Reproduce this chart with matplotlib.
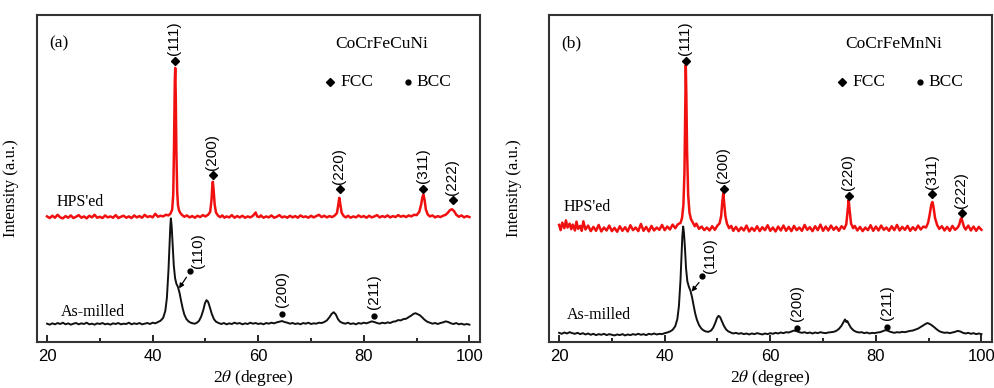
import matplotlib
matplotlib.use("Agg")
import matplotlib.pyplot as plt
from matplotlib.ticker import MultipleLocator

plt.rcParams["mathtext.fontset"] = "stix"

# ---- data (2theta in degree, intensity in a.u.) ----
a_hps = [
    (20.0, 38.4), (20.5, 37.9), (21.0, 38.6), (21.5, 38.0), (22.0, 38.9), (22.5, 38.1),
    (23.0, 37.8), (23.5, 38.5), (24.0, 38.0), (24.5, 38.7), (25.0, 37.9), (25.5, 38.3),
    (26.0, 38.8), (26.5, 38.0), (27.0, 38.4), (27.5, 37.8), (28.0, 38.6), (28.5, 38.1),
    (29.0, 38.9), (29.5, 38.0), (30.0, 38.3), (30.5, 37.9), (31.0, 38.7), (31.5, 38.1),
    (32.0, 38.4), (32.5, 38.0), (33.0, 38.8), (33.5, 37.9), (34.0, 38.3), (34.5, 38.6),
    (35.0, 38.0), (35.5, 38.4), (36.0, 37.9), (36.5, 38.7), (37.0, 38.1), (37.5, 38.5),
    (38.0, 38.0), (38.5, 38.9), (39.0, 38.2), (39.5, 38.5), (40.0, 38.1), (40.5, 39.2),
    (41.0, 38.3), (41.5, 38.6), (42.0, 38.4), (42.5, 38.9), (43.0, 38.7), (43.4, 39.3),
    (43.7, 40.5), (43.9, 45.0), (44.05, 60.0), (44.2, 80.0), (44.28, 83.8), (44.38, 75.0),
    (44.5, 58.0), (44.65, 46.0), (44.8, 41.8), (45.0, 40.2), (45.3, 39.3), (45.6, 38.8),
    (46.0, 38.3), (46.5, 38.7), (47.0, 38.1), (47.5, 38.5), (48.0, 38.0), (48.5, 38.6),
    (49.0, 38.2), (49.5, 38.8), (50.0, 38.4), (50.5, 38.9), (50.9, 39.8), (51.15, 43.5),
    (51.3, 47.5), (51.4, 49.0), (51.55, 46.5), (51.75, 42.0), (52.0, 39.6), (52.4, 38.6),
    (52.8, 38.2), (53.2, 38.7), (53.6, 38.0), (54.0, 38.4), (54.5, 38.1), (55.0, 38.8),
    (55.5, 38.0), (56.0, 38.5), (56.5, 38.1), (57.0, 38.6), (57.5, 38.0), (58.0, 38.4),
    (58.5, 38.1), (59.0, 38.6), (59.5, 39.6), (59.8, 38.4), (60.2, 38.2), (60.5, 38.7),
    (61.0, 38.0), (61.5, 38.4), (62.0, 38.1), (62.5, 38.7), (63.0, 38.0), (63.5, 38.3),
    (64.0, 38.8), (64.5, 38.1), (65.0, 38.4), (65.5, 38.0), (66.0, 38.6), (66.5, 38.1),
    (67.0, 38.5), (67.5, 38.0), (68.0, 38.7), (68.5, 38.2), (69.0, 38.4), (69.5, 38.0),
    (70.0, 38.6), (70.5, 38.1), (71.0, 38.5), (71.5, 38.9), (72.0, 38.2), (72.5, 38.6),
    (73.0, 38.1), (73.5, 38.5), (74.0, 38.2), (74.5, 38.7), (74.9, 39.4), (75.15, 41.8),
    (75.35, 44.1), (75.55, 42.0), (75.8, 39.5), (76.2, 38.5), (76.6, 38.1), (77.0, 38.6),
    (77.5, 38.0), (78.0, 38.4), (78.5, 38.1), (79.0, 38.7), (79.5, 38.2), (80.0, 38.5),
    (80.5, 38.0), (81.0, 38.6), (81.5, 38.1), (82.0, 38.4), (82.5, 38.8), (83.0, 38.1),
    (83.5, 38.5), (84.0, 38.2), (84.5, 38.7), (85.0, 38.1), (85.5, 38.5), (86.0, 38.2),
    (86.5, 38.8), (87.0, 38.3), (87.5, 38.6), (88.0, 38.2), (88.5, 38.7), (89.0, 38.4),
    (89.5, 38.9), (90.0, 38.8), (90.5, 39.8), (90.85, 42.0), (91.1, 44.3), (91.3, 45.1),
    (91.5, 43.5), (91.75, 40.5), (92.1, 39.0), (92.5, 38.4), (93.0, 38.7), (93.5, 38.1),
    (94.0, 38.5), (94.5, 38.2), (95.0, 38.6), (95.5, 38.9), (95.9, 39.5), (96.3, 40.3),
    (96.7, 40.6), (97.1, 40.0), (97.5, 38.9), (98.0, 38.3), (98.5, 38.7), (99.0, 38.1),
    (99.5, 38.5), (100.0, 38.2),
]

a_milled = [
    (20.0, 5.6), (20.5, 5.3), (21.0, 5.7), (21.5, 5.4), (22.0, 5.8), (22.5, 5.5),
    (23.0, 5.9), (23.5, 5.4), (24.0, 5.7), (24.5, 5.3), (25.0, 5.6), (25.5, 5.8),
    (26.0, 5.4), (26.5, 5.7), (27.0, 5.5), (27.5, 5.9), (28.0, 5.4), (28.5, 5.6),
    (29.0, 5.3), (29.5, 5.7), (30.0, 5.5), (30.5, 5.8), (31.0, 5.4), (31.5, 5.6),
    (32.0, 5.3), (32.5, 5.7), (33.0, 5.5), (33.5, 5.8), (34.0, 5.4), (34.5, 5.6),
    (35.0, 5.5), (35.5, 5.9), (36.0, 5.4), (36.5, 5.7), (37.0, 5.5), (37.5, 5.8),
    (38.0, 5.4), (38.5, 5.6), (39.0, 5.8), (39.5, 5.5), (40.0, 5.9), (40.5, 5.7),
    (41.0, 6.1), (41.5, 6.5), (42.0, 7.4), (42.4, 9.5), (42.7, 13.5), (43.0, 22.0),
    (43.2, 30.0), (43.35, 35.5), (43.45, 37.8), (43.6, 35.5), (43.8, 29.5), (44.0, 23.5),
    (44.25, 19.5), (44.5, 17.8), (44.8, 16.8), (45.1, 15.0), (45.4, 12.5), (45.7, 10.2),
    (46.0, 8.4), (46.4, 7.0), (46.8, 6.3), (47.2, 5.9), (47.6, 5.7), (48.0, 5.6),
    (48.4, 5.9), (48.8, 6.5), (49.2, 7.8), (49.6, 9.8), (49.9, 11.8), (50.2, 12.8),
    (50.5, 12.3), (50.8, 10.8), (51.2, 8.6), (51.6, 7.0), (52.0, 6.2), (52.5, 5.8),
    (53.0, 5.5), (53.5, 5.8), (54.0, 5.4), (54.5, 5.7), (55.0, 5.5), (55.5, 5.9),
    (56.0, 5.6), (56.5, 5.8), (57.0, 5.4), (57.5, 5.7), (58.0, 5.5), (58.5, 5.9),
    (59.0, 5.6), (59.5, 5.8), (60.0, 5.5), (60.5, 5.7), (61.0, 5.4), (61.5, 5.8),
    (62.0, 5.6), (62.5, 5.9), (63.0, 5.7), (63.5, 6.0), (64.0, 6.2), (64.5, 6.4),
    (65.0, 6.1), (65.5, 5.9), (66.0, 5.6), (66.5, 5.8), (67.0, 5.5), (67.5, 5.7),
    (68.0, 5.4), (68.5, 5.8), (69.0, 5.6), (69.5, 5.9), (70.0, 5.5), (70.5, 5.7),
    (71.0, 5.6), (71.5, 5.9), (72.0, 5.8), (72.5, 6.1), (73.0, 6.6), (73.5, 7.6),
    (73.9, 8.6), (74.3, 9.1), (74.7, 8.4), (75.1, 7.0), (75.5, 6.2), (76.0, 5.8),
    (76.5, 5.6), (77.0, 5.9), (77.5, 5.5), (78.0, 5.7), (78.5, 5.4), (79.0, 5.8),
    (79.5, 5.6), (80.0, 5.9), (80.5, 5.7), (81.0, 6.0), (81.5, 6.3), (82.0, 6.1),
    (82.5, 5.8), (83.0, 5.6), (83.5, 5.9), (84.0, 5.7), (84.5, 6.0), (85.0, 5.8),
    (85.5, 6.2), (86.0, 6.3), (86.5, 6.7), (87.0, 6.6), (87.5, 7.0), (88.0, 7.1),
    (88.5, 7.6), (89.0, 8.1), (89.4, 8.6), (89.8, 8.8), (90.2, 8.5), (90.6, 8.2),
    (91.0, 7.6), (91.5, 6.8), (92.0, 6.2), (92.5, 5.9), (93.0, 5.6), (93.5, 5.8),
    (94.0, 5.5), (94.5, 5.8), (95.0, 6.0), (95.5, 6.3), (96.0, 6.1), (96.5, 5.7),
    (97.0, 5.5), (97.5, 5.8), (98.0, 5.4), (98.5, 5.6), (99.0, 5.3), (99.5, 5.5),
    (100.0, 5.3),
]

b_hps = [
    (20.0, 35.8), (20.3, 34.2), (20.6, 36.5), (21.0, 34.8), (21.3, 37.2), (21.6, 35.0),
    (22.0, 36.2), (22.3, 34.5), (22.6, 35.9), (23.0, 34.1), (23.3, 36.8), (23.6, 34.6),
    (24.0, 35.5), (24.3, 34.0), (24.6, 36.9), (25.0, 34.4), (25.5, 35.6), (26.0, 33.9),
    (26.5, 35.2), (27.0, 34.0), (27.5, 35.8), (28.0, 33.8), (28.5, 35.0), (29.0, 34.1),
    (29.5, 35.6), (30.0, 33.9), (30.5, 34.9), (31.0, 33.7), (31.5, 35.4), (32.0, 34.0),
    (32.5, 35.1), (33.0, 33.8), (33.5, 35.7), (34.0, 34.2), (34.5, 35.0), (35.0, 33.9),
    (35.5, 36.1), (36.0, 34.0), (36.5, 35.2), (37.0, 33.8), (37.5, 35.5), (38.0, 34.1),
    (38.5, 35.0), (39.0, 34.3), (39.5, 35.8), (40.0, 34.2), (40.5, 35.3), (41.0, 34.4),
    (41.5, 35.9), (42.0, 34.8), (42.5, 36.0), (43.0, 36.4), (43.3, 38.0), (43.55, 42.0),
    (43.75, 52.0), (43.9, 72.0), (44.0, 84.7), (44.1, 76.0), (44.25, 58.0), (44.45, 45.0),
    (44.7, 39.5), (45.0, 37.5), (45.3, 36.6), (45.7, 35.4), (46.0, 36.2), (46.5, 34.6),
    (47.0, 35.3), (47.5, 34.2), (48.0, 35.0), (48.5, 34.1), (49.0, 35.4), (49.5, 34.3),
    (50.0, 35.6), (50.4, 36.3), (50.7, 38.5), (50.9, 42.5), (51.1, 45.5), (51.3, 42.0),
    (51.5, 38.5), (51.8, 36.2), (52.2, 34.8), (52.6, 35.5), (53.0, 34.0), (53.5, 35.2),
    (54.0, 33.9), (54.5, 35.0), (55.0, 34.1), (55.5, 35.6), (56.0, 33.8), (56.5, 34.9),
    (57.0, 34.0), (57.5, 35.4), (58.0, 33.9), (58.5, 35.1), (59.0, 34.2), (59.5, 35.7),
    (60.0, 34.0), (60.5, 35.0), (61.0, 33.8), (61.5, 35.3), (62.0, 34.1), (62.5, 35.6),
    (63.0, 34.0), (63.5, 35.2), (64.0, 33.9), (64.5, 35.5), (65.0, 34.2), (65.5, 35.0),
    (66.0, 34.0), (66.5, 35.8), (67.0, 34.3), (67.5, 35.1), (68.0, 33.9), (68.5, 35.4),
    (69.0, 34.2), (69.5, 35.9), (70.0, 34.0), (70.5, 35.3), (71.0, 34.1), (71.5, 35.6),
    (72.0, 34.3), (72.5, 35.2), (73.0, 34.0), (73.5, 35.4), (74.0, 34.6), (74.4, 36.0),
    (74.65, 40.0), (74.85, 43.4), (75.05, 40.0), (75.3, 36.2), (75.7, 34.8), (76.0, 35.5),
    (76.5, 34.1), (77.0, 35.2), (77.5, 33.9), (78.0, 35.0), (78.5, 34.2), (79.0, 35.7),
    (79.5, 34.0), (80.0, 35.3), (80.5, 34.1), (81.0, 35.6), (81.5, 34.3), (82.0, 35.0),
    (82.5, 34.0), (83.0, 35.4), (83.5, 34.2), (84.0, 35.8), (84.5, 34.1), (85.0, 35.2),
    (85.5, 34.3), (86.0, 35.5), (86.5, 34.0), (87.0, 35.1), (87.5, 34.2), (88.0, 35.6),
    (88.5, 34.4), (89.0, 35.3), (89.5, 35.0), (89.9, 36.5), (90.2, 39.0), (90.5, 42.0),
    (90.7, 42.8), (90.9, 41.5), (91.2, 38.0), (91.6, 35.8), (92.0, 34.6), (92.5, 35.4),
    (93.0, 34.1), (93.5, 35.2), (94.0, 34.0), (94.5, 35.5), (95.0, 34.3), (95.5, 35.0),
    (95.8, 35.9), (96.05, 37.5), (96.2, 37.9), (96.4, 36.8), (96.7, 35.2), (97.0, 34.4),
    (97.5, 35.6), (98.0, 34.1), (98.5, 35.3), (99.0, 34.0), (99.5, 35.2), (100.0, 34.3),
]

b_milled = [
    (20.0, 2.8), (20.5, 2.5), (21.0, 2.9), (21.5, 2.6), (22.0, 3.0), (22.5, 2.7),
    (23.0, 2.5), (23.5, 2.8), (24.0, 2.4), (24.5, 2.7), (25.0, 2.3), (25.5, 2.6),
    (26.0, 2.2), (26.5, 2.5), (27.0, 2.1), (27.5, 2.4), (28.0, 2.2), (28.5, 2.5),
    (29.0, 2.1), (29.5, 2.4), (30.0, 2.2), (30.5, 2.0), (31.0, 2.3), (31.5, 2.1),
    (32.0, 2.4), (32.5, 2.0), (33.0, 2.3), (33.5, 2.1), (34.0, 2.4), (34.5, 2.2),
    (35.0, 2.5), (35.5, 2.2), (36.0, 2.4), (36.5, 2.1), (37.0, 2.5), (37.5, 2.3),
    (38.0, 2.6), (38.5, 2.3), (39.0, 2.5), (39.5, 2.4), (40.0, 2.7), (40.5, 2.9),
    (41.0, 3.2), (41.5, 3.7), (42.0, 4.8), (42.4, 7.0), (42.7, 11.0), (43.0, 19.0),
    (43.2, 27.0), (43.35, 32.5), (43.5, 35.3), (43.65, 33.5), (43.85, 28.5), (44.05, 22.5),
    (44.3, 18.5), (44.6, 16.8), (44.9, 15.6), (45.2, 13.6), (45.5, 11.0), (45.8, 8.6),
    (46.1, 6.8), (46.5, 5.2), (46.9, 4.2), (47.3, 3.6), (47.8, 3.2), (48.3, 3.1),
    (48.8, 3.5), (49.2, 4.4), (49.6, 5.9), (49.9, 7.3), (50.2, 8.0), (50.5, 7.6),
    (50.8, 6.5), (51.2, 5.0), (51.6, 3.9), (52.0, 3.3), (52.5, 2.9), (53.0, 2.6),
    (53.5, 2.8), (54.0, 2.5), (54.5, 2.7), (55.0, 2.4), (55.5, 2.6), (56.0, 2.3),
    (56.5, 2.6), (57.0, 2.4), (57.5, 2.7), (58.0, 2.5), (58.5, 2.3), (59.0, 2.6),
    (59.5, 2.4), (60.0, 2.7), (60.5, 2.5), (61.0, 2.8), (61.5, 2.6), (62.0, 2.9),
    (62.5, 2.7), (63.0, 3.0), (63.5, 2.9), (64.0, 3.2), (64.5, 3.5), (65.0, 3.3),
    (65.5, 3.0), (66.0, 2.8), (66.5, 3.0), (67.0, 2.7), (67.5, 2.9), (68.0, 2.6),
    (68.5, 2.9), (69.0, 2.7), (69.5, 3.0), (70.0, 2.8), (70.5, 2.7), (71.0, 2.9),
    (71.5, 3.0), (72.0, 3.1), (72.5, 3.4), (73.0, 4.0), (73.5, 5.0), (73.9, 6.2),
    (74.15, 6.9), (74.4, 6.1), (74.6, 6.4), (74.9, 5.4), (75.3, 4.3), (75.8, 3.5),
    (76.3, 3.1), (76.8, 2.9), (77.3, 3.0), (77.8, 2.7), (78.3, 2.9), (78.8, 2.6),
    (79.3, 2.8), (79.8, 2.7), (80.3, 2.9), (80.8, 3.0), (81.3, 3.3), (81.8, 3.6),
    (82.2, 3.5), (82.6, 3.2), (83.0, 3.0), (83.5, 2.8), (84.0, 3.0), (84.5, 2.9),
    (85.0, 3.1), (85.5, 3.0), (86.0, 3.2), (86.5, 3.4), (87.0, 3.5), (87.5, 3.8),
    (88.0, 4.1), (88.5, 4.6), (89.0, 5.1), (89.5, 5.6), (89.8, 5.8), (90.2, 5.5),
    (90.6, 5.1), (91.0, 4.6), (91.5, 3.9), (92.0, 3.3), (92.5, 3.0), (93.0, 2.8),
    (93.5, 2.9), (94.0, 2.7), (94.5, 2.9), (95.0, 3.1), (95.5, 3.4), (96.0, 3.2),
    (96.5, 2.8), (97.0, 2.6), (97.5, 2.8), (98.0, 2.5), (98.5, 2.7), (99.0, 2.4),
    (99.5, 2.6), (100.0, 2.4),
]

# FCC reflections (diamonds) on the HPS'ed pattern
fcc_labels = ["(111)", "(200)", "(220)", "(311)", "(222)"]
a_fcc_x = [44.2, 51.4, 75.4, 91.3, 96.8]
a_fcc_y = [86.0, 51.0, 46.7, 46.8, 43.4]
b_fcc_x = [44.0, 51.2, 74.9, 90.7, 96.3]
b_fcc_y = [86.0, 46.8, 44.7, 45.2, 39.4]

# BCC reflections (dots) on the as-milled pattern
bcc_labels = ["(110)", "(200)", "(211)"]
a_bcc_x = [47.0, 64.5, 81.9]
a_bcc_y = [21.8, 8.6, 8.0]
b_bcc_x = [47.1, 65.0, 82.2]
b_bcc_y = [20.2, 4.3, 4.7]

# (110) shoulder the arrow points at
a_shoulder = (45.0, 16.4)
b_shoulder = (45.1, 15.4)

panels = [
    dict(ax_left=0.0372, tag="(a)", alloy="CoCrFeCuNi", hps=a_hps, milled=a_milled,
         fcc_x=a_fcc_x, fcc_y=a_fcc_y, bcc_x=a_bcc_x, bcc_y=a_bcc_y, shoulder=a_shoulder,
         hps_pos=(21.9, 42.8), milled_pos=(22.7, 9.2), ylab_x=-0.041, xlab=(0.488, -0.080)),
    dict(ax_left=0.5518, tag="(b)", alloy="CoCrFeMnNi", hps=b_hps, milled=b_milled,
         fcc_x=b_fcc_x, fcc_y=b_fcc_y, bcc_x=b_bcc_x, bcc_y=b_bcc_y, shoulder=b_shoulder,
         hps_pos=(20.8, 41.3), milled_pos=(21.5, 8.3), ylab_x=-0.061, xlab=(0.5, -0.080)),
]

serif = "Liberation Serif"
sans = "Liberation Sans"

fig = plt.figure(figsize=(9.95, 3.88), dpi=100)

for p in panels:
    ax = fig.add_axes([p["ax_left"], 0.1186, 0.4452, 0.8428])

    hx, hy = zip(*p["hps"])
    mx, my = zip(*p["milled"])
    ax.plot(hx, hy, color="#f01010", lw=1.8)
    ax.plot(mx, my, color="#111111", lw=1.4)

    ax.set_xlim(18.1, 102.0)
    ax.set_ylim(0, 100)

    # FCC markers and labels
    ax.plot(p["fcc_x"], p["fcc_y"], linestyle="none", marker="D", ms=4, color="black")
    for lab, x, y in zip(fcc_labels, p["fcc_x"], p["fcc_y"]):
        ax.annotate(lab, (x, y), xytext=(-0.5, 4), textcoords="offset points",
                    rotation=90, ha="center", va="bottom", fontsize=11, family=sans)

    # BCC markers and labels
    ax.plot(p["bcc_x"], p["bcc_y"], linestyle="none", marker="o", ms=3.5, color="black")
    for i, (lab, x, y) in enumerate(zip(bcc_labels, p["bcc_x"], p["bcc_y"])):
        dx, dy = (6, 2) if i == 0 else (0, 5)
        ax.annotate(lab, (x, y), xytext=(dx, dy), textcoords="offset points",
                    rotation=90, ha="center", va="bottom", fontsize=11, family=sans)
    bx, by = p["bcc_x"][0], p["bcc_y"][0]
    ax.annotate("", xy=p["shoulder"], xytext=(bx - 0.6, by - 2.0),
                arrowprops=dict(arrowstyle="-|>", color="black", lw=0.9,
                                mutation_scale=7, shrinkA=0, shrinkB=0))

    # curve names
    ax.text(*p["hps_pos"], "HPS'ed", fontsize=11.5, family=serif, va="center", ha="left")
    ax.text(*p["milled_pos"], "As-milled", fontsize=11.5, family=serif, va="center", ha="left")

    # panel tag, alloy name and phase key
    ax.text(0.028, 0.912, p["tag"], transform=ax.transAxes, fontsize=12.5,
            family=serif, va="center", ha="left")
    ax.text(0.777, 0.911, p["alloy"], transform=ax.transAxes, fontsize=12.5,
            family=serif, va="center", ha="center")
    ax.plot([0.661], [0.795], transform=ax.transAxes, marker="D", ms=4, color="black")
    ax.text(0.684, 0.795, "FCC", transform=ax.transAxes, fontsize=12.5,
            family=serif, va="center", ha="left")
    ax.plot([0.838], [0.795], transform=ax.transAxes, marker="o", ms=3.5, color="black")
    ax.text(0.857, 0.795, "BCC", transform=ax.transAxes, fontsize=12.5,
            family=serif, va="center", ha="left")

    # axes styling
    for s in ax.spines.values():
        s.set_linewidth(1.5)
        s.set_color("#333333")
    ax.set_yticks([])
    ax.xaxis.set_major_locator(MultipleLocator(20))
    ax.xaxis.set_minor_locator(MultipleLocator(10))
    ax.tick_params(axis="x", which="major", direction="in", length=5, width=1.2,
                   pad=5, labelsize=12)
    ax.tick_params(axis="x", which="minor", direction="in", length=3, width=1.2)
    for t in ax.get_xticklabels():
        t.set_family(sans)

    ax.set_ylabel("Intensity (a.u.)", fontsize=12, family=serif)
    ax.yaxis.set_label_coords(p["ylab_x"], 0.471)
    ax.set_xlabel(r"2$\theta$ (degree)", fontsize=12.5, family=serif)
    ax.xaxis.set_label_coords(*p["xlab"])

fig.savefig("out.png", dpi=100)
